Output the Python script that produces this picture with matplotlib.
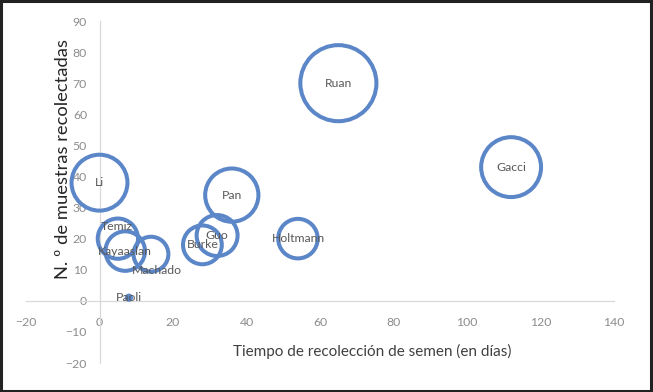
import matplotlib.pyplot as plt
from matplotlib.patches import Rectangle

# ---------- data ----------
authors = ["Li", "Temiz", "Kayaaslan", "Machado", "Paoli", "Burke",
           "Guo", "Pan", "Holtmann", "Ruan", "Gacci"]
days = [0, 5, 7, 14, 8, 28, 32, 36, 54, 65, 112]
samples = [38, 20, 16, 15, 1, 18, 21, 34, 20, 70, 43]
bubble = [54, 28, 27, 21, 0.3, 26, 29, 49, 27, 100, 62]

x_ticks = [-20, 0, 20, 40, 60, 80, 100, 120, 140]
y_ticks = [-20, -10, 0, 10, 20, 30, 40, 50, 60, 70, 80, 90]

# manual label nudges (points) for labels moved off-centre
label_shift = {"Temiz": (-1, 9), "Machado": (4, -12)}

BLUE = "#5B86C8"
plt.rcParams["font.family"] = ["Lato", "DejaVu Sans"]

fig = plt.figure(figsize=(6.53, 3.92), dpi=100)
ax = fig.add_axes([26 / 653, 29 / 392, 588 / 653, 342 / 392])

ax.scatter(days, samples, s=[b * 30 for b in bubble], facecolors="none",
           edgecolors=BLUE, linewidths=2.9, clip_on=False, zorder=3)

for name, x, y in zip(authors, days, samples):
    dx, dy = label_shift.get(name, (0, 0))
    ax.annotate(name, (x, y), xytext=(dx, dy), textcoords="offset points",
                ha="center", va="center", fontsize=8.8, color="#595959", zorder=4)

ax.set_xlim(-20, 140)
ax.set_ylim(-20, 90)
ax.set_xticks(x_ticks)
ax.set_yticks(y_ticks)

# axes cross at zero, like the spreadsheet chart
for side in ("top", "right"):
    ax.spines[side].set_visible(False)
ax.spines["left"].set_position(("data", 0))
ax.spines["bottom"].set_position(("data", 0))
for side in ("left", "bottom"):
    ax.spines[side].set_color("#D9D9D9")
    ax.spines[side].set_linewidth(0.9)
ax.tick_params(axis="both", length=0, labelsize=8.8, labelcolor="#8C8C8C")
ax.tick_params(axis="x", pad=12)
ax.tick_params(axis="y", pad=9)

fig.text(372 / 653, 1 - 351 / 392, "Tiempo de recolección de semen (en días)",
         ha="center", va="center", fontsize=11, color="#404040")
fig.text(63 / 653, 1 - 159 / 392, "N. º de muestras recolectadas",
         ha="center", va="center", rotation=90, fontsize=13.2, color="#262626")

fig.patches.append(Rectangle((0.002, 0.003), 0.995, 0.994, transform=fig.transFigure,
                             fill=False, edgecolor="#222222", linewidth=2.2))

fig.savefig("out.png", dpi=100)
